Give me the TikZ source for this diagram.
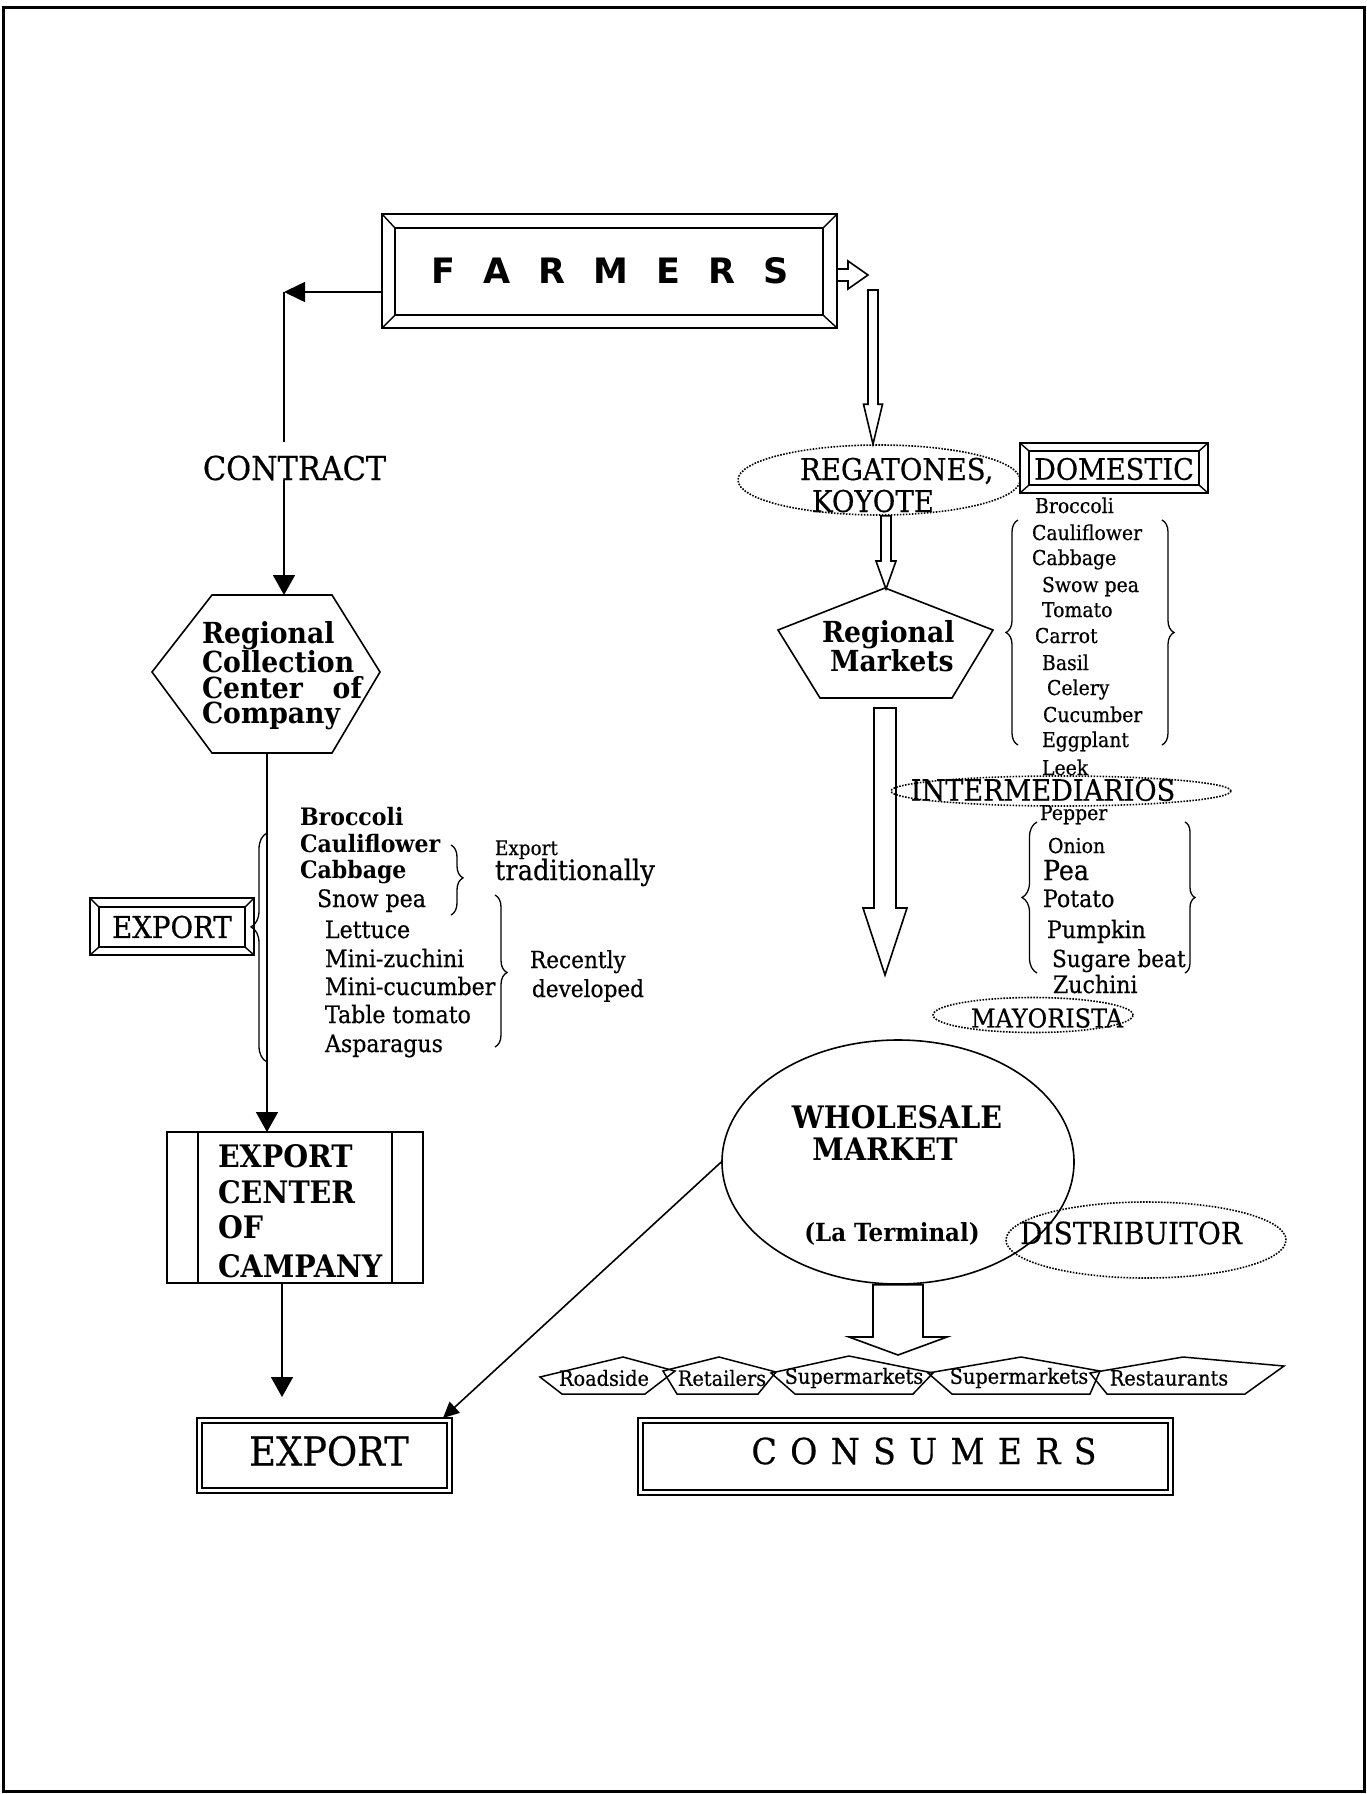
\documentclass[tikz,border=0pt]{standalone}
\usepackage{fontspec}
\setmainfont{DejaVu Serif}[FakeStretch=0.92, UprightFeatures={FakeBold=0.5}]
\newfontfamily\farmfont{DejaVu Sans}
\usetikzlibrary{arrows.meta,calc,decorations.pathreplacing,shapes.geometric}
\newcommand\fsz[1]{\fontsize{#1}{#1}\selectfont}
% vertical block arrow: #1 top coord, #2 tip coord, #3 shaft half width, #4 head half width, #5 head length
\newcommand\vblock[5]{%
 \draw[line width=1.6pt, line join=miter] let \p1=#1, \p2=#2 in
  (\x1-#3pt,\y1) -- (\x1-#3pt,\y2+#5pt) -- (\x1-#4pt,\y2+#5pt) -- (\x1,\y2) --
  (\x1+#4pt,\y2+#5pt) -- (\x1+#3pt,\y2+#5pt) -- (\x1+#3pt,\y1) -- cycle;}
% horizontal block arrow to the right
\newcommand\hblock[5]{%
 \draw[line width=1.6pt, line join=miter] let \p1=#1, \p2=#2 in
  (\x1,\y1+#3pt) -- (\x2-#5pt,\y1+#3pt) -- (\x2-#5pt,\y1+#4pt) -- (\x2,\y1) --
  (\x2-#5pt,\y1-#4pt) -- (\x2-#5pt,\y1-#3pt) -- (\x1,\y1-#3pt) -- cycle;}
\begin{document}
\begin{tikzpicture}[x=1pt,y=-1pt,
  box/.style={draw, line width=2pt, inner sep=0pt, outer sep=0pt},
  txt/.style={inner sep=0pt, outer sep=0pt},
  arr/.style={line width=1.6pt,-{Triangle[length=20pt,width=22pt]}},
  dotell/.style={draw, ellipse, dash pattern=on 1.6pt off 1.4pt, line width=1.6pt, inner sep=0pt},
  brc/.style={decorate, line width=1.3pt},
  thinl/.style={line width=1.4pt},
  outlet/.style={line width=1.5pt, line join=miter},
]
\useasboundingbox (0,0) rectangle (1366,1794);
\draw[line width=3pt] (3,7) rectangle (1364,1791);

% ---------- FARMERS ----------
\node[box, minimum width=455pt, minimum height=114pt] (farmers) at (609.5,271) {};
\draw[thinl] (395,228) rectangle (823,315);
\draw[thinl] (farmers.north west) -- (395,228) (farmers.north east) -- (823,228)
  (farmers.south west) -- (395,315) (farmers.south east) -- (823,315);
\def\g{\hspace{28pt}}
\node[txt, anchor=base] (farmtxt) at (610,283) {\farmfont\bfseries\fsz{35}F\g A\g R\g M\g E\g R\g S};

% ---------- left branch ----------
\coordinate (cL) at (284,292);
\draw[line width=1.6pt, -{Triangle[length=21pt,width=20pt]}] (farmers.west |- cL) -- (cL);
\node[txt, anchor=base west] (contract) at (203,480) {\fsz{33}CONTRACT};
\draw[line width=1.6pt] (cL) -- ([yshift=14pt]cL |- contract.north);
\coordinate (hxN) at (284,595);
\draw[arr] (cL |- contract.south) -- (hxN);

% hexagon
\draw[line width=1.6pt, line join=miter] (152,672) -- (212,595) -- (332,595) -- (380,672) -- (332,753) -- (212,753) -- cycle;
\coordinate (hxS) at (267,753);
\node[txt, anchor=north west, align=left, font=\bfseries\fontsize{29}{25.5}\selectfont] (hext) at (202,621)
  {Regional\\Collection\\\hbox to 160pt{Center\hfill of}\\Company};

% export centre box
\node[box, minimum width=256pt, minimum height=151pt] (expc) at (295,1207.5) {};
\draw[line width=1.6pt] (198,1132) -- (198,1283) (392,1132) -- (392,1283);
\draw[arr] (hxS) -- (expc.north -| hxS);
\node[txt, anchor=base west] (e1) at (218,1167) {\bfseries\fsz{31}EXPORT};
\node[txt, anchor=base west] (e2) at (218,1203) {\bfseries\fsz{31}CENTER};
\node[txt, anchor=base west] (e3) at (218,1238) {\bfseries\fsz{31}OF};
\node[txt, anchor=base west] (e4) at (218,1277) {\bfseries\fsz{31}CAMPANY};

% small export box with brace
\node[box, minimum width=164pt, minimum height=57pt] (exps) at (172,926.5) {};
\draw[thinl] (99,907) rectangle (245,947);
\draw[thinl] (exps.north west) -- (99,907) (exps.north east) -- (245,907)
  (exps.south west) -- (99,947) (exps.south east) -- (245,947);
\node[txt] (expst) at (172,927) {\fsz{30}EXPORT};
\draw[brc, decoration={brace, amplitude=16pt, aspect=0.59}] (267,1062) -- (267,833);

% export product list
\node[txt, anchor=base west] (l1) at (300,825) {\bfseries\fsz{24}Broccoli};
\node[txt, anchor=base west] (l2) at (300,852) {\bfseries\fsz{24}Cauliflower};
\node[txt, anchor=base west] (l3) at (300,878) {\bfseries\fsz{24}Cabbage};
\node[txt, anchor=base west] (l4) at (317,907) {\fsz{24}Snow pea};
\node[txt, anchor=base west] (l5) at (325,938) {\fsz{24}Lettuce};
\node[txt, anchor=base west] (l6) at (325,967) {\fsz{24}Mini-zuchini};
\node[txt, anchor=base west] (l7) at (325,995) {\fsz{24}Mini-cucumber};
\node[txt, anchor=base west] (l8) at (325,1023) {\fsz{24}Table tomato};
\node[txt, anchor=base west] (l9) at (325,1052) {\fsz{24}Asparagus};
\draw[brc, decoration={brace, amplitude=12pt, aspect=0.47}] (451,845) -- (451,915);
\draw[brc, decoration={brace, amplitude=12pt, aspect=0.51}] (495,895) -- (495,1047);
\node[txt, anchor=base west] (x1) at (495,855) {\fsz{20}Export};
\node[txt, anchor=base west] (x2) at (495,880) {\fsz{28}traditionally};
\node[txt, anchor=base west] (x3) at (530,968) {\fsz{23.5}Recently};
\node[txt, anchor=base west] (x4) at (532,997) {\fsz{23.5}developed};

% final export box
\node[box, minimum width=255pt, minimum height=75pt] (exp) at (324.5,1455.5) {};
\draw[thinl] (202,1423) rectangle (447,1488);
\node[txt] (expt) at (329,1451) {\fsz{40}EXPORT};
\coordinate (t1) at (282,1397);
\draw[arr] (expc.south -| t1) -- (t1);

% ---------- right branch ----------
\coordinate (a0s) at (farmers.east |- 0,275);
\coordinate (a0e) at (868,275);
\hblock{(a0s)}{(a0e)}{6}{14}{20}

\node[dotell, minimum width=282pt, minimum height=70pt] (reg) at (879,480) {};
\node[txt, anchor=base west] (rg1) at (800,480) {\fsz{30}REGATONES,};
\node[txt, anchor=base west] (rg2) at (812,512) {\fsz{30}KOYOTE};
\coordinate (a1s) at (873,290);
\coordinate (a1e) at (reg.north -| a1s);
\vblock{(a1s)}{(a1e)}{5}{9.5}{40}

\node[box, minimum width=188pt, minimum height=50pt] (dom) at (1114,468) {};
\draw[thinl] (1029,451) rectangle (1199,485);
\draw[thinl] (dom.north west) -- (1029,451) (dom.north east) -- (1199,451)
  (dom.south west) -- (1029,485) (dom.south east) -- (1199,485);
\node[txt] (domt) at (1114,469) {\fsz{29.5}DOMESTIC};

% domestic list
\node[txt, anchor=base west] (d1) at (1035,513) {\fsz{20.5}Broccoli};
\node[txt, anchor=base west] (d2) at (1032,540) {\fsz{20.5}Cauliflower};
\node[txt, anchor=base west] (d3) at (1032,565) {\fsz{20.5}Cabbage};
\node[txt, anchor=base west] (d4) at (1042,592) {\fsz{20.5}Swow pea};
\node[txt, anchor=base west] (d5) at (1042,617) {\fsz{20.5}Tomato};
\node[txt, anchor=base west] (d6) at (1035,643) {\fsz{20.5}Carrot};
\node[txt, anchor=base west] (d7) at (1042,670) {\fsz{20.5}Basil};
\node[txt, anchor=base west] (d8) at (1047,695) {\fsz{20.5}Celery};
\node[txt, anchor=base west] (d9) at (1043,722) {\fsz{20.5}Cucumber};
\node[txt, anchor=base west] (d10) at (1042,747) {\fsz{20.5}Eggplant};
\node[txt, anchor=base west] (d11) at (1042,775) {\fsz{20.5}Leek};
\draw[brc, decoration={brace, amplitude=12pt}] (1018,745) -- (1018,520);
\draw[brc, decoration={brace, amplitude=12pt}] (1162,520) -- (1162,745);

% regional markets pentagon
\draw[line width=1.6pt, line join=miter] (885,588) -- (993,630) -- (952,698) -- (820,698) -- (778,630) -- cycle;
\coordinate (rmN) at (886,589);
\node[txt, anchor=north west, align=left, font=\bfseries\fontsize{29}{26}\selectfont] (rmt) at (822,620)
  {Regional\\\hspace*{8pt}Markets};
\coordinate (a2s) at (reg.south -| rmN);
\vblock{(a2s)}{(rmN)}{5}{10}{28}

% big arrow
\coordinate (a3s) at (885,708);
\coordinate (a3e) at (885,975);
\vblock{(a3s)}{(a3e)}{11}{22}{67}

% intermediarios
\node[dotell, minimum width=340pt, minimum height=30pt] (inter) at (1061,791) {};
\node[txt] (intert) at (1043,790) {\fsz{29.5}INTERMEDIARIOS};

\node[txt, anchor=base west] (p1) at (1040,820) {\fsz{20.5}Pepper};
\node[txt, anchor=base west] (p2) at (1048,853) {\fsz{20.5}Onion};
\node[txt, anchor=base west] (p3) at (1043,880) {\fsz{27.5}Pea};
\node[txt, anchor=base west] (p4) at (1043,907) {\fsz{24}Potato};
\node[txt, anchor=base west] (p5) at (1047,938) {\fsz{24}Pumpkin};
\node[txt, anchor=base west] (p6) at (1052,967) {\fsz{23.5}Sugare beat};
\node[txt, anchor=base west] (p7) at (1053,993) {\fsz{24}Zuchini};
\draw[brc, decoration={brace, amplitude=15pt}] (1037,973) -- (1037,822);
\draw[brc, decoration={brace, amplitude=10pt}] (1185,822) -- (1185,973);

% mayorista
\node[dotell, minimum width=200pt, minimum height=35pt] (may) at (1033,1015) {};
\node[txt] (mayt) at (1047,1018) {\fsz{26}MAYORISTA};

% wholesale market
\node[draw, ellipse, line width=1.6pt, inner sep=0pt, minimum width=352pt, minimum height=244pt] (wm) at (898,1162) {};
\node[txt] (wm1) at (897,1117) {\bfseries\fsz{31}WHOLESALE};
\node[txt] (wm2) at (885,1149) {\bfseries\fsz{31}MARKET};
\node[txt, anchor=base] (wm3) at (892,1241) {\bfseries\fsz{25}(La Terminal)};

\node[dotell, minimum width=280pt, minimum height=76pt] (dist) at (1146,1240) {};
\node[txt] (distt) at (1131,1233) {\fsz{30.5}DISTRIBUITOR};

\draw[line width=1.6pt, -{Triangle[length=16pt,width=15pt]}] (wm.west) -- ([xshift=-9pt]exp.north east);

% outlets
\draw[outlet] (540,1377) -- (623,1357) -- (675,1371) -- (645,1394) -- (562,1394) -- cycle;
\node[txt] (o1) at (604,1378) {\fsz{21}Roadside};
\draw[outlet] (663,1371) -- (719,1357) -- (776,1372) -- (758,1394) -- (677,1394) -- cycle;
\node[txt] (o2) at (722,1378) {\fsz{21}Retailers};
\draw[outlet] (771,1373) -- (849,1356) -- (933,1373) -- (913,1394) -- (795,1394) -- cycle;
\node[txt] (o3) at (854,1378) {\fsz{21}Supermarkets};
\draw[outlet] (928,1373) -- (1021,1357) -- (1100,1371) -- (1090,1394) -- (952,1394) -- cycle;
\node[txt] (o4) at (1019,1378) {\fsz{21}Supermarkets};
\draw[outlet] (1090,1373) -- (1183,1357) -- (1284,1366) -- (1245,1394) -- (1107,1394) -- cycle;
\node[txt] (o5) at (1169,1378) {\fsz{21}Restaurants};
\coordinate (a4e) at (898,1355);
\vblock{(wm.south)}{(a4e)}{25}{49}{18}

% consumers
\node[box, minimum width=535pt, minimum height=77pt] (cons) at (905.5,1456.5) {};
\draw[thinl] (643,1423) rectangle (1168,1490);
\def\h{\hspace{13.4pt}}
\node[txt] (const) at (924,1451) {\fsz{36}C\h O\h N\h S\h U\h M\h E\h R\h S};
\end{tikzpicture}
\end{document}
